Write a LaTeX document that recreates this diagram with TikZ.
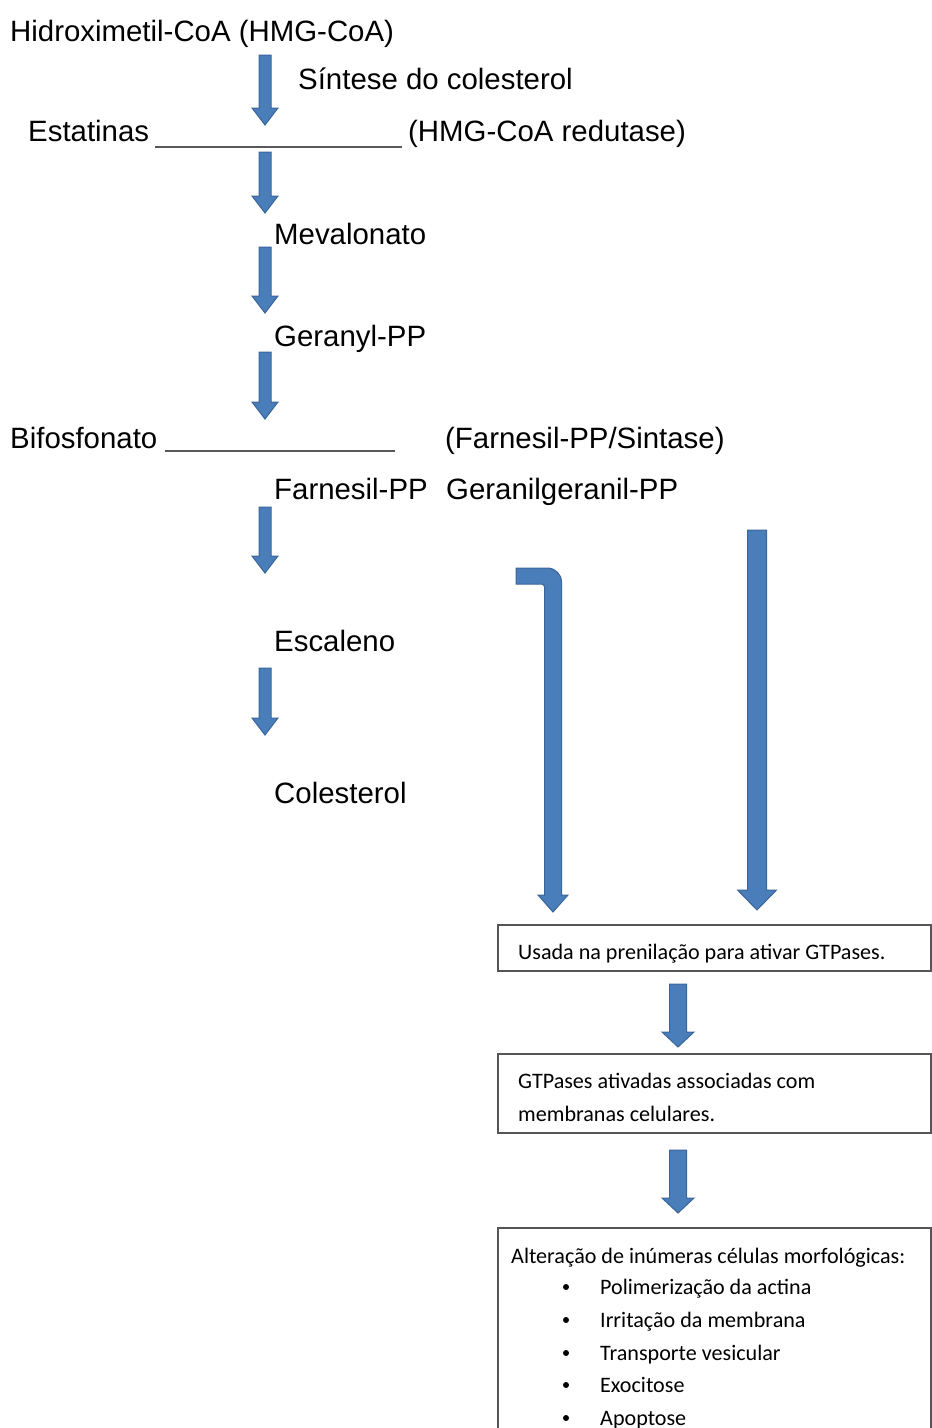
\documentclass[tikz,border=0pt]{standalone}
\usepackage{fontspec}
\setmainfont{Liberation Sans}
\newfontfamily\calib{Carlito}
\usetikzlibrary{calc}
\definecolor{arrfill}{HTML}{4A7EBB}
\definecolor{arrline}{HTML}{3A659A}
\definecolor{boxline}{HTML}{555555}
\newcommand\blockarrow[5]{\filldraw[barrow] let \p1=(#1),\p2=(#2) in (\x1-#3,\y1) -- (\x1+#3,\y1) -- (\x1+#3,\y2+#5) -- (\x1+#4,\y2+#5) -- (\x1,\y2) -- (\x1-#4,\y2+#5) -- (\x1-#3,\y2+#5) -- cycle;}
\begin{document}
\begin{tikzpicture}[x=1pt,y=-1pt,
  big/.style={font=\fontsize{29.4}{34}\selectfont, inner sep=0pt, anchor=base west},
  small/.style={font=\calib\fontsize{22.1}{26}\selectfont, inner sep=0pt, anchor=base west},
  barrow/.style={fill=arrfill, draw=arrline, line width=1pt},
  boxst/.style={draw=boxline, line width=1.5pt},
  uline/.style={draw=black!65, line width=1.8pt}]
\useasboundingbox (0,0) rectangle (932,1428);

% left column texts
\node[big] (hmg) at (10,41) {Hidroximetil-CoA (HMG-CoA)};
\node[big] (sint) at (298,89) {Síntese do colesterol};
\node[big] (estat) at (28,141) {Estatinas};
\node[big] (redut) at (408,141) {(HMG-CoA redutase)};
\node[big] (meva) at (274,244) {Mevalonato};
\node[big] (gera) at (274,346) {Geranyl-PP};
\node[big] (bifo) at (10,448) {Bifosfonato};
\node[big] (sintase) at (445,448) {(Farnesil-PP/Sintase)};
\node[big] (farn) at (274,499) {Farnesil-PP};
\node[big] (ggpp) at (446,499) {Geranilgeranil-PP};
\node[big] (escal) at (274,651) {Escaleno};
\node[big] (coles) at (274,803) {Colesterol};

% blank lines
\coordinate (l1a) at (155,147); \coordinate (l1b) at (402,147);
\draw[uline] (l1a) -- (l1b);
\coordinate (l2a) at (165,451); \coordinate (l2b) at (395,451);
\draw[uline] (l2a) -- (l2b);

% small left arrows
\coordinate (a1s) at (265,55);  \coordinate (a1e) at (265,125);
\coordinate (a2s) at (265,152); \coordinate (a2e) at (265,213);
\coordinate (a3s) at (265,247); \coordinate (a3e) at (265,313);
\coordinate (a4s) at (265,352); \coordinate (a4e) at (265,419);
\coordinate (a5s) at (265,507); \coordinate (a5e) at (265,573);
\coordinate (a6s) at (265,668); \coordinate (a6e) at (265,735);
\blockarrow{a1s}{a1e}{6pt}{13pt}{17pt}
\blockarrow{a2s}{a2e}{6pt}{13pt}{17pt}
\blockarrow{a3s}{a3e}{6pt}{13pt}{17pt}
\blockarrow{a4s}{a4e}{6pt}{13pt}{17pt}
\blockarrow{a5s}{a5e}{6pt}{13pt}{17pt}
\blockarrow{a6s}{a6e}{6pt}{13pt}{17pt}

% long right arrow
\coordinate (rs) at (757,530); \coordinate (re) at (757,910);
\blockarrow{rs}{re}{9.5pt}{19.5pt}{20pt}

% bent arrow
\filldraw[barrow] (516,568) -- (547.5,568) .. controls (555.2,568) and (561.5,574.3) .. (561.5,582) -- (561.5,895) -- (568,895) -- (553,912) -- (538,895) -- (544.5,895) -- (544.5,587) .. controls (544.5,585.3) and (543.2,584) .. (541.5,584) -- (516,584) -- cycle;

% boxes
\draw[boxst] (498,925) rectangle (931,971);
\node[small] (t1) at (518,959) {Usada na prenilação para ativar GTPases.};
\draw[boxst] (498,1054) rectangle (931,1133);
\node[small] (t2a) at (518,1088) {GTPases ativadas associadas com};
\node[small] (t2b) at (518,1121) {membranas celulares.};
\draw[boxst] (498,1440) -- (498,1228) -- (931,1228) -- (931,1440);
\node[small] (t3) at (511,1263) {Alteração de inúmeras células morfológicas:};
\foreach \y/\t [count=\i] in {1294/Polimerização da actina, 1327/Irritação da membrana, 1360/Transporte vesicular, 1392/Exocitose, 1425/Apoptose}{
  \node[small] (it\i) at (600,\y) {\t};
  \fill (566,\y-7) circle (3pt);
}

% arrows between boxes
\coordinate (b1s) at (678,984); \coordinate (b1e) at (678,1047);
\blockarrow{b1s}{b1e}{8.5pt}{16pt}{15pt}
\coordinate (b2s) at (678,1150); \coordinate (b2e) at (678,1213);
\blockarrow{b2s}{b2e}{8.5pt}{16pt}{15pt}
\end{tikzpicture}
\end{document}
